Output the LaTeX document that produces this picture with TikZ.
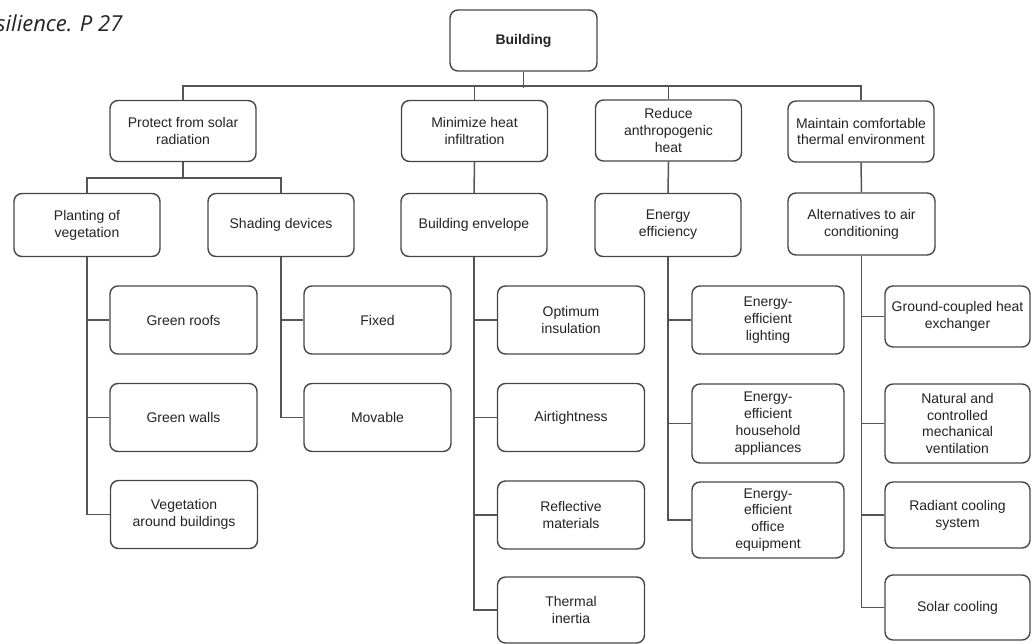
\documentclass[tikz,border=0pt]{standalone}
\usepackage{fontspec}
\setmainfont{Liberation Sans}
\newfontfamily\notefont{Open Sans}
\definecolor{linegray}{RGB}{85,85,85}
\definecolor{boxgray}{RGB}{70,70,70}
\definecolor{txtgray}{RGB}{35,35,35}
\begin{document}
\begin{tikzpicture}[x=1pt,y=-1pt,
  box/.style={draw=boxgray, line width=1.4pt, rounded corners=8pt, align=center, text=txtgray, inner sep=1pt, font=\fontsize{14}{16.8}\selectfont},
  top/.style={box, minimum width=146pt, minimum height=61pt},
  sub/.style={box, minimum width=146pt, minimum height=63pt},
  leaf/.style={box, minimum width=147pt, minimum height=68pt},
  link/.style={draw=linegray, line width=1.5pt}]
\useasboundingbox (0,0) rectangle (1032,643);

% Text Node
\node[anchor=base west, inner sep=0pt, text=txtgray, font=\notefont\itshape\fontsize{22}{26}\selectfont] (note) at (-4,31) {silience. P 27};

% root
\node[box, minimum width=147pt, minimum height=61pt, font=\bfseries\fontsize{14}{16.8}\selectfont] (bld) at (523.5,40.5) {Building};

% first level
\node[top] (protect) at (183,131) {Protect from solar\\radiation};
\node[top] (minimize) at (474.5,131) {Minimize heat\\infiltration};
\node[top] (reduce) at (668.5,130.5) {Reduce\\anthropogenic\\heat};
\node[top] (maintain) at (861,131.5) {Maintain comfortable\\thermal environment};

% second level
\node[sub] (planting) at (87,225) {Planting of\\vegetation};
\node[sub] (shading) at (281,225) {Shading devices};
\node[sub] (envelope) at (474,225) {Building envelope};
\node[sub] (energy) at (668,225) {Energy\\efficiency};
\node[sub, minimum width=147pt, minimum height=62pt] (altern) at (861.5,224) {Alternatives to air\\conditioning};

% leaves
\node[leaf] (roofs) at (183.5,320) {Green roofs};
\node[leaf] (walls) at (183.5,417.5) {Green walls};
\node[leaf] (veg) at (184,514.5) {Vegetation\\around buildings};
\node[leaf] (fixed) at (377.5,320) {Fixed};
\node[leaf] (movable) at (377.5,417.5) {Movable};
\node[leaf] (insul) at (571,320) {Optimum\\insulation};
\node[leaf] (airtight) at (571,417.5) {Airtightness};
\node[leaf] (reflect) at (571,515) {Reflective\\materials};
\node[leaf, minimum height=66pt] (inertia) at (571,610) {Thermal\\inertia};
\node[leaf, minimum width=152pt] (lighting) at (768,320) {Energy-\\efficient\\lighting};
\node[leaf, minimum width=152pt, minimum height=79pt] (household) at (768,423.5) {Energy-\\efficient\\household\\appliances};
\node[leaf, minimum width=152pt, minimum height=76pt] (office) at (768,520) {Energy-\\efficient\\office\\equipment};
\node[leaf, minimum width=145pt, minimum height=61pt] (ground) at (957.5,316.5) {Ground-coupled heat\\exchanger};
\node[leaf, minimum width=145pt, minimum height=79pt] (natural) at (957.5,423.5) {Natural and\\controlled\\mechanical\\ventilation};
\node[leaf, minimum width=145pt, minimum height=66pt] (radiant) at (957.5,515) {Radiant cooling\\system};
\node[leaf, minimum width=145pt, minimum height=65pt] (solar) at (957.5,607.5) {Solar cooling};

% connectors
\draw[link] (bld.south) -- ++(0,16);
\draw[link] (protect.north) -- ++(0,-14) -| (maintain.north);
\draw[link] (minimize.north) -- ++(0,-14);
\draw[link] (reduce.north) -- ++(0,-14);
\draw[link] (protect.south) -- ++(0,16) -| (planting.north);
\draw[link] (protect.south) ++(0,16) -| (shading.north);
\draw[link] (minimize.south) -- (envelope.north);
\draw[link] (reduce.south) -- (energy.north);
\draw[link] (maintain.south) -- (altern.north);
\foreach \c in {roofs,walls,veg}
  \draw[link] (planting.south) |- (\c.west);
\foreach \c in {fixed,movable}
  \draw[link] (shading.south) |- (\c.west);
\foreach \c in {insul,airtight,reflect,inertia}
  \draw[link] (envelope.south) |- (\c.west);
\foreach \c in {lighting,household,office}
  \draw[link] (energy.south) |- (\c.west);
\foreach \c in {ground,natural,radiant,solar}
  \draw[link] (altern.south) |- (\c.west);

\end{tikzpicture}
\end{document}
